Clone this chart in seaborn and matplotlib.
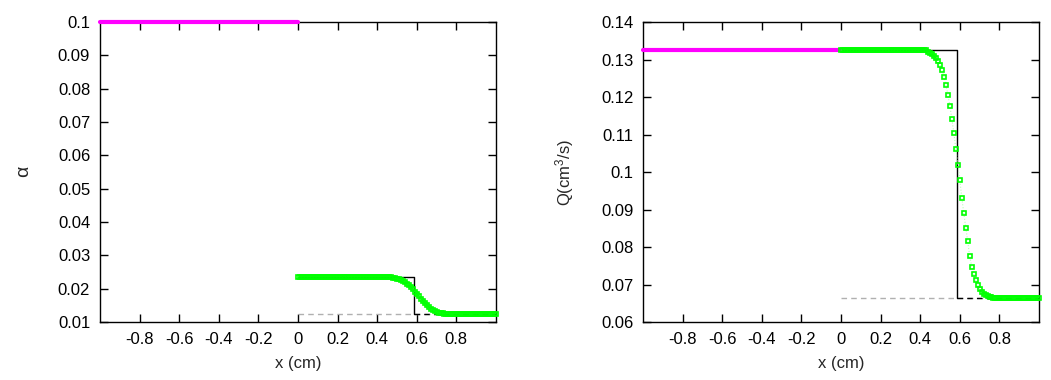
import numpy as np
import pandas as pd
import matplotlib
matplotlib.use("Agg")
import matplotlib.pyplot as plt
import seaborn as sns

# left state (x < 0) and initial right state
x_left = [-1.0, 0.0]
alpha_left = 0.1
q_left = 0.1325
alpha_right0 = 0.0125
q_right0 = 0.0665

# exact solution: shock position and intermediate states
x_shock = 0.585
alpha_star = 0.0235
q_star = 0.1325

# numerical solution on x = 0.00 .. 1.00 (step 0.01)
x_num = [round(0.01 * i, 2) for i in range(101)]
alpha_num = ([0.0235] * 46 +
             [0.0234, 0.0234, 0.0233, 0.0232, 0.0230, 0.0228, 0.0226, 0.0223,
              0.0219, 0.0215, 0.0210, 0.0204, 0.0198, 0.0191, 0.0184, 0.0177,
              0.0170, 0.0163, 0.0157, 0.0151, 0.0145, 0.0140, 0.0136, 0.0133,
              0.0130, 0.0128, 0.0127, 0.0126] +
             [0.0125] * 27)
q_num = ([0.1325] * 44 +
         [0.1319, 0.1317, 0.1314, 0.1310, 0.1303, 0.1295, 0.1285, 0.1271,
          0.1254, 0.1232, 0.1206, 0.1175, 0.1141, 0.1103, 0.1062, 0.1020,
          0.0978, 0.0932, 0.0890, 0.0852, 0.0815, 0.0775, 0.0748, 0.0728,
          0.0712, 0.0700, 0.0689, 0.0681, 0.0675, 0.0671, 0.0669, 0.0667,
          0.0666] +
         [0.0665] * 24)

x_ticks = [-0.8, -0.6, -0.4, -0.2, 0, 0.2, 0.4, 0.6, 0.8]
x_tick_labels = ["-0.8", "-0.6", "-0.4", "-0.2", "0", "0.2", "0.4", "0.6", "0.8"]
alpha_ticks = [0.01, 0.02, 0.03, 0.04, 0.05, 0.06, 0.07, 0.08, 0.09, 0.1]
alpha_tick_labels = ["0.01", "0.02", "0.03", "0.04", "0.05", "0.06", "0.07", "0.08", "0.09", "0.1"]
q_ticks = [0.06, 0.07, 0.08, 0.09, 0.1, 0.11, 0.12, 0.13, 0.14]
q_tick_labels = ["0.06", "0.07", "0.08", "0.09", "0.1", "0.11", "0.12", "0.13", "0.14"]

sns.set_style("ticks")
plt.rcParams['font.family'] = ['Liberation Sans', 'DejaVu Sans']
plt.rcParams['mathtext.fontset'] = 'custom'
plt.rcParams['mathtext.rm'] = 'Liberation Sans'
plt.rcParams['mathtext.it'] = 'Liberation Sans'

fig = plt.figure(figsize=(10.51, 3.80), dpi=100)
ax1 = fig.add_axes([0.0951, 0.1526, 0.3768, 0.7895])
ax2 = fig.add_axes([0.6118, 0.1526, 0.3768, 0.7895])

GREEN = "#00ff00"
MAGENTA = "#ff00ff"
FS = 12


def draw_panel(ax, left_val, star_val, right0, num_vals, ylim, yticks, ylabels, ylabel, ylsize):
    # initial right state (gray dashed)
    sns.lineplot(x=[0.0, 1.0], y=[right0, right0], ax=ax, color="#b0b0b0",
                 lw=1, linestyle=(0, (4, 3)), zorder=1)
    # exact solution (black)
    sns.lineplot(x=[0.0, x_shock, x_shock], y=[star_val, star_val, right0], ax=ax,
                 color="black", lw=1, sort=False, estimator=None, zorder=2)
    sns.lineplot(x=[x_shock, 1.0], y=[right0, right0], ax=ax, color="black",
                 lw=1, linestyle=(0, (4, 3)), zorder=2)
    # left state (magenta)
    sns.lineplot(x=x_left, y=[left_val, left_val], ax=ax, color=MAGENTA, lw=3,
                 zorder=3, clip_on=False)
    # numerical solution (green hollow squares)
    df = pd.DataFrame({"x": x_num, "y": num_vals})
    sns.lineplot(data=df, x="x", y="y", ax=ax, color="#b8ffb8", lw=0.8,
                 linestyle=":", marker="s", markersize=2.8, markerfacecolor="none",
                 markeredgecolor=GREEN, markeredgewidth=1.2, estimator=None,
                 zorder=4, clip_on=False)
    ax.set_xlim(-1, 1)
    ax.set_ylim(*ylim)
    ax.set_xticks(x_ticks)
    ax.set_xticklabels(x_tick_labels)
    ax.set_yticks(yticks)
    ax.set_yticklabels(ylabels)
    ax.tick_params(direction="in", length=6, width=1, top=True, right=True,
                   labelsize=FS, pad=7, colors="black")
    for s in ax.spines.values():
        s.set_linewidth(1)
        s.set_color("black")
        s.set_visible(True)
    ax.set_xlabel("x (cm)", fontsize=FS, labelpad=7)
    ax.set_ylabel(ylabel, fontsize=ylsize, labelpad=18)


draw_panel(ax1, alpha_left, alpha_star, alpha_right0, alpha_num, (0.01, 0.1),
           alpha_ticks, alpha_tick_labels, r"$\alpha$", 14)
draw_panel(ax2, q_left, q_star, q_right0, q_num, (0.06, 0.14),
           q_ticks, q_tick_labels, r"Q(cm$^3$/s)", FS)

fig.savefig("out.png", dpi=100)
